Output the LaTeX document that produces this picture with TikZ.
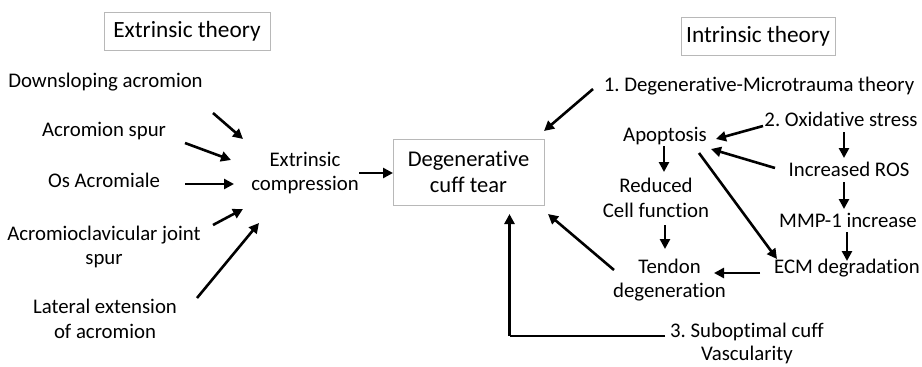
\documentclass[tikz,border=0pt]{standalone}
\usepackage{fontspec}
\setmainfont{Carlito}[Ligatures=NoCommon]
\usetikzlibrary{arrows.meta}
\frenchspacing
\begin{document}
\begin{tikzpicture}[x=1pt,y=-1pt,
  txt/.style={align=center,inner sep=0pt,font=\fontsize{20.8}{24.5}\selectfont},
  title/.style={draw=black!28,line width=1pt,inner sep=0pt,minimum height=38pt,font=\fontsize{23.3}{27}\selectfont},
  arr/.style={line width=2.6pt,-{Triangle[length=10pt,width=10pt]}},
  ln/.style={line width=2.6pt}]
\useasboundingbox (0,0) rectangle (922,367);
% titles
\node[title,minimum width=166pt] (ext) at (187,31) {Extrinsic theory};
\node[title,minimum width=154pt] (int) at (758,36) {Intrinsic theory};
% left causes
\node[txt] (down) at (105.5,82) {Downsloping acromion};
\node[txt] (spur) at (104,131) {Acromion spur};
\node[txt] (os) at (104,180) {Os Acromiale};
\node[txt] (ac) at (104,247) {Acromioclavicular joint\\spur};
\node[txt] (lat) at (105,319) {Lateral extension\\of acromion};
\node[txt] (excomp) at (305,173) {Extrinsic\\compression};
% central
\node[draw=black!28,line width=1pt,minimum width=151pt,minimum height=66pt,inner sep=0pt,align=center,font=\fontsize{22.5}{26}\selectfont] (tear) at (468.5,172) {Degenerative\\cuff tear};
% right
\node[txt] (dmt) at (759,86) {1. Degenerative-Microtrauma theory};
\node[txt] (apop) at (665,136) {Apoptosis};
\node[txt] (ox) at (841,119) {2. Oxidative stress};
\node[txt] (ros) at (849,169) {Increased ROS};
\node[txt] (mmp) at (848,220) {MMP-1 increase};
\node[txt] (ecm) at (847,268) {ECM degradation};
\node[txt] (red) at (656,198) {Reduced\\Cell function};
\node[txt] (tend) at (669.5,280) {Tendon\\degeneration};
\node[txt,font=\fontsize{20.8}{23}\selectfont] (sub) at (747,343) {3. Suboptimal cuff\\Vascularity};
% connector end points
\coordinate (d1) at (213,113); \coordinate (d2) at (243,139);
\coordinate (s1) at (185,143); \coordinate (s2) at (231,160);
\coordinate (o1) at (185,184); \coordinate (o2) at (234,184);
\coordinate (a1) at (213,225); \coordinate (a2) at (243,209);
\coordinate (l1) at (197,298); \coordinate (l2) at (259,223);
\coordinate (e1) at (359,173); \coordinate (e2) at (393,173);
\coordinate (m1) at (593,89); \coordinate (m2) at (544,131);
\coordinate (x1) at (763,126); \coordinate (x2) at (716,139);
\coordinate (r1) at (775,168); \coordinate (r2) at (711,149);
\coordinate (p1) at (699,153); \coordinate (p2) at (777,259);
\coordinate (g1) at (760,273); \coordinate (g2) at (714,273);
\coordinate (t1) at (614,270); \coordinate (t2) at (548,214);
\coordinate (v1) at (665,336); \coordinate (v2) at (509.5,336); \coordinate (v3) at (509.5,214);
\coordinate (ar1) at (664,146); \coordinate (ar2) at (664,172);
\coordinate (rt1) at (665,225); \coordinate (rt2) at (665,249);
\coordinate (or1) at (844,132); \coordinate (or2) at (844,158);
\coordinate (rm1) at (844,182); \coordinate (rm2) at (844,209);
\coordinate (me1) at (847,232); \coordinate (me2) at (847,261);
% left arrows
\draw[arr] (d1) -- (d2);
\draw[arr] (s1) -- (s2);
\draw[arr] (o1) -- (o2);
\draw[arr] (a1) -- (a2);
\draw[arr] (l1) -- (l2);
\draw[arr] (e1) -- (e2);
% right arrows
\draw[arr] (m1) -- (m2);
\draw[arr] (x1) -- (x2);
\draw[arr] (r1) -- (r2);
\draw[arr] (p1) -- (p2);
\draw[arr] (g1) -- (g2);
\draw[arr] (t1) -- (t2);
\draw[arr] (ar1) -- (ar2);
\draw[arr] (rt1) -- (rt2);
\draw[arr] (or1) -- (or2);
\draw[arr] (rm1) -- (rm2);
\draw[arr] (me1) -- (me2);
\draw[ln] (v1) -- (v2);
\draw[arr] (v2) -- (v3);
\end{tikzpicture}
\end{document}
